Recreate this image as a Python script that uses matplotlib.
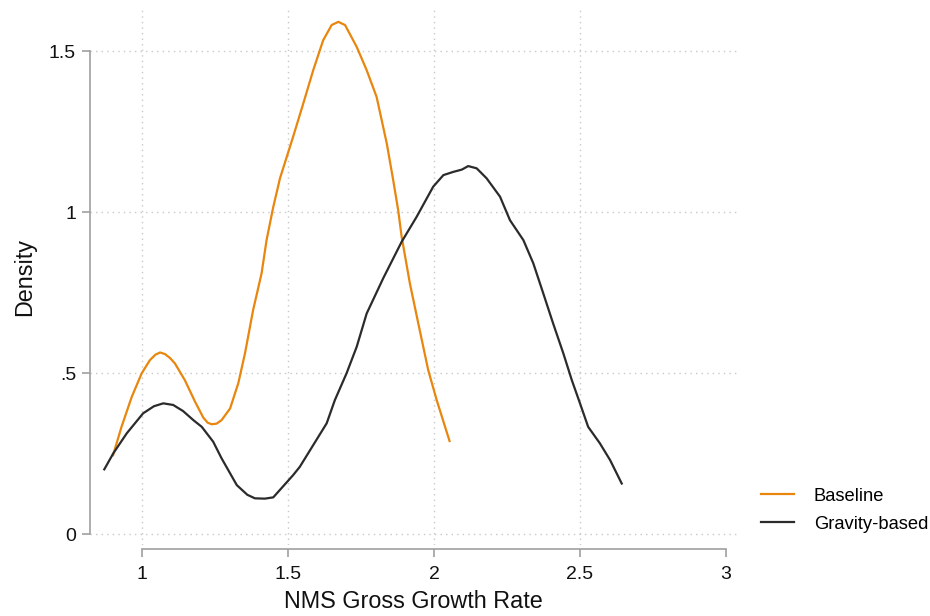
import matplotlib
matplotlib.use("Agg")
import matplotlib.pyplot as plt

plt.rcParams['font.family'] = ['Liberation Sans', 'DejaVu Sans']

# Baseline density (orange)
base_x = [0.900, 0.929, 0.964, 0.998, 1.026, 1.045, 1.061, 1.078, 1.095, 1.112,
          1.146, 1.181, 1.209, 1.224, 1.238, 1.255, 1.272, 1.301, 1.329, 1.352,
          1.380, 1.409, 1.426, 1.449, 1.472, 1.517, 1.552, 1.586, 1.620, 1.649,
          1.672, 1.695, 1.735, 1.769, 1.803, 1.838, 1.860, 1.877, 1.889, 1.917,
          1.946, 1.980, 2.009, 2.053]
base_y = [0.245, 0.333, 0.426, 0.499, 0.540, 0.557, 0.564, 0.559, 0.547, 0.530,
          0.478, 0.411, 0.362, 0.346, 0.341, 0.343, 0.354, 0.390, 0.468, 0.561,
          0.696, 0.810, 0.913, 1.016, 1.105, 1.234, 1.338, 1.441, 1.534, 1.581,
          1.591, 1.581, 1.513, 1.441, 1.358, 1.213, 1.099, 1.006, 0.923, 0.779,
          0.654, 0.509, 0.416, 0.289]

# Gravity-based density (dark)
grav_x = [0.870, 0.901, 0.947, 1.003, 1.040, 1.072, 1.106, 1.140, 1.175, 1.204,
          1.243, 1.272, 1.324, 1.360, 1.386, 1.420, 1.449, 1.517, 1.540, 1.632,
          1.660, 1.700, 1.735, 1.769, 1.826, 1.889, 1.940, 1.997, 2.032, 2.066,
          2.095, 2.117, 2.146, 2.180, 2.226, 2.260, 2.306, 2.340, 2.374, 2.408,
          2.443, 2.472, 2.500, 2.528, 2.568, 2.603, 2.643]
grav_y = [0.201, 0.251, 0.313, 0.375, 0.397, 0.406, 0.401, 0.382, 0.354, 0.333,
          0.287, 0.235, 0.152, 0.122, 0.111, 0.110, 0.114, 0.183, 0.209, 0.344,
          0.416, 0.499, 0.582, 0.685, 0.795, 0.908, 0.985, 1.079, 1.115, 1.125,
          1.132, 1.143, 1.136, 1.105, 1.048, 0.975, 0.913, 0.841, 0.748, 0.654,
          0.561, 0.478, 0.406, 0.333, 0.282, 0.230, 0.157]

x_ticks = [1, 1.5, 2, 2.5, 3]
x_tick_labels = ["1", "1.5", "2", "2.5", "3"]
y_ticks = [0, 0.5, 1, 1.5]
y_tick_labels = ["0", ".5", "1", "1.5"]

orange = "#E8860E"
dark = "#2B2B2B"
axis_gray = "#A0A0A0"
grid_gray = "#C8C8C8"

fig = plt.figure(figsize=(9.3, 6.16), dpi=100)
ax = fig.add_axes([90/930, 1 - 545/616, (737-90)/930, (545-8)/616])

ax.set_xlim(0.821, 3.038)
ax.set_ylim(-0.034, 1.634)

for yv in y_ticks:
    ax.axhline(yv, color=grid_gray, lw=1.0, ls=(0, (1, 3)), zorder=0)
for xv in x_ticks[:-1]:
    ax.axvline(xv, color=grid_gray, lw=1.0, ls=(0, (1, 3)), zorder=0)

ax.plot(base_x, base_y, color=orange, lw=1.6, label="Baseline")
ax.plot(grav_x, grav_y, color=dark, lw=1.6, label="Gravity-based")

for s in ["top", "right"]:
    ax.spines[s].set_visible(False)
ax.spines["left"].set_bounds(0, 1.5)
ax.spines["bottom"].set_bounds(1, 3)
ax.spines["bottom"].set_position(("outward", 3))
for s in ["left", "bottom"]:
    ax.spines[s].set_color(axis_gray)
    ax.spines[s].set_linewidth(1.2)

ax.set_xticks(x_ticks)
ax.set_xticklabels(x_tick_labels)
ax.set_yticks(y_ticks)
ax.set_yticklabels(y_tick_labels)
ax.tick_params(axis="both", colors=axis_gray, labelcolor="#111111",
               labelsize=14, length=6, width=1.2, direction="out")
ax.tick_params(axis="x", pad=6)
ax.tick_params(axis="y", pad=4)

ax.set_xlabel("NMS Gross Growth Rate", fontsize=16.8, color="#111111", labelpad=5)
ax.set_ylabel("Density", fontsize=16.8, color="#111111", labelpad=9)

ax.legend(loc="center left", bbox_to_anchor=(0.818, 0.172),
          bbox_transform=fig.transFigure, frameon=False, fontsize=13.2,
          handlelength=1.8, handletextpad=1.1, labelspacing=0.6,
          borderpad=0, borderaxespad=0)

fig.savefig("out.png", dpi=100)
